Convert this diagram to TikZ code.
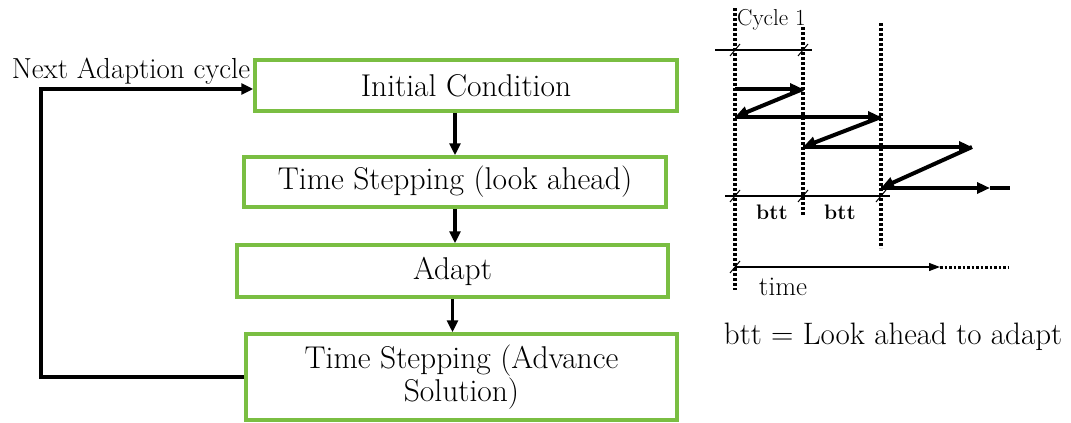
\documentclass[tikz,border=0pt]{standalone}
\usetikzlibrary{arrows.meta}
\definecolor{boxgreen}{RGB}{122,190,66}

\tikzset{
  flow/.style={draw=black,line width=3.5pt,-{Triangle[length=12pt,width=11pt]}},
  zig/.style={draw=black,line width=4pt,-{Triangle[length=13pt,width=11pt]}},
  thinline/.style={draw=black,line width=1.2pt},
  dotline/.style={draw=black,line width=3.5pt,dash pattern=on 3pt off 2pt},
  tick/.style={draw=black,line width=1pt}
}

\begin{document}
\begin{tikzpicture}[x=1pt,y=-1pt]
\useasboundingbox (0,0) rectangle (1071,423);

\begin{scope}[every node/.style={draw=boxgreen,line width=3.5pt,inner sep=0pt,align=center,
                                 font=\fontsize{31.5}{31}\selectfont}]
    \node (IC)[minimum width=422pt,minimum height=51pt] at (466,85.5) {Initial Condition};
    \node (TS)[minimum width=422pt,minimum height=50pt] at (455,182) {Time Stepping (look ahead)};
    \node (AD)[minimum width=431pt,minimum height=52pt] at (452.5,271) {Adapt};
    \node (TA)[minimum width=431pt,minimum height=86pt] at (461.5,377) {Time Stepping (Advance\\Solution)};
\end{scope}

\node (NA)[font=\fontsize{29}{32}\selectfont] at (131,71) {Next Adaption cycle};
\coordinate (L) at (41,0);

\draw[flow] (IC.south -| TS.north) -- (TS.north);
\draw[flow] (TS.south) -- (TS.south |- AD.north);
\draw[flow] (AD.south) -- (AD.south |- TA.north);
\draw[flow] (TA.west) -- (TA.west -| L) |- ([yshift=-3.5pt]IC.west);

% time line panel
\coordinate (C1) at (735,0);
\coordinate (C2) at (803,0);
\coordinate (C3) at (881,0);
\draw[dotline] (735,8) -- (735,290);
\draw[dotline] (803,27) -- (803,215);
\draw[dotline] (881,23) -- (881,248);
\node (CY)[anchor=west,inner sep=0pt,font=\fontsize{23}{24}\selectfont] at (737,20) {Cycle 1};

\draw[thinline] (715,50) -- (812,50);
\foreach \x in {735,803}
    \draw[tick] (\x-5,56) -- (\x+5,44);

\coordinate (P1) at (735,89);
\coordinate (P2) at (803,89);
\coordinate (P3) at (735,117);
\coordinate (P4) at (881,117);
\coordinate (P5) at (803,147);
\coordinate (P6) at (972,147);
\coordinate (P7) at (881,188);
\coordinate (P8) at (990,188);
\coordinate (P9) at (1010,188);
\draw[zig] (P1) -- (P2);
\draw[zig] (P2) -- (P3);
\draw[zig] (P3) -- (P4);
\draw[zig] (P4) -- (P5);
\draw[zig] (P5) -- (P6);
\draw[zig] (P6) -- (P7);
\draw[zig] (P7) -- (P8);
\draw[line width=4pt] (P8) -- (P9);

\draw[thinline] (725,196) -- (890,196);
\foreach \x in {735,803,881}
    \draw[tick] (\x-5,202) -- (\x+5,190);
\node (B1)[font=\bfseries\fontsize{21}{24}\selectfont] at (772,212) {btt};
\node (B2)[font=\bfseries\fontsize{21}{24}\selectfont] at (840,212) {btt};

\coordinate (T1) at (735,267);
\coordinate (T2) at (940,267);
\coordinate (T3) at (1008,267);
\draw[thinline,-{Triangle[length=11pt,width=8pt]}] (T1) -- (T2);
\draw[line width=3pt,dash pattern=on 2.5pt off 2pt] (T2) -- (T3);
\draw[tick] (730,273) -- (740,261);
\node (TI)[font=\fontsize{27}{30}\selectfont] at (783,287) {time};

\node (KEY)[font=\fontsize{31}{34}\selectfont] at (893,337) {btt = Look ahead to adapt};
\end{tikzpicture}
\end{document}
